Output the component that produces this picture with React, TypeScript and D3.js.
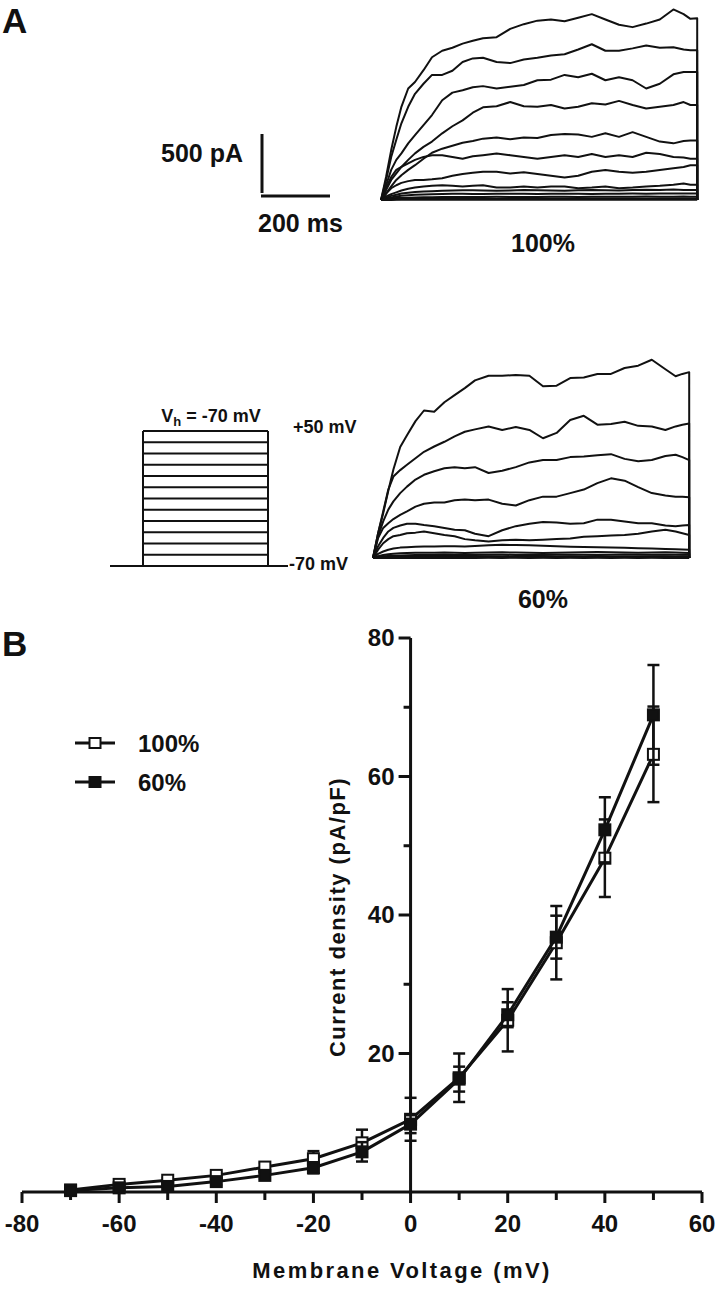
import React from 'react';
import * as d3 from 'd3';

// ---------- Panel A: current traces (time in ms, current in pA) ----------
const T_MS = [0, 15, 30, 45, 60, 80, 100, 125, 150, 180, 210, 240, 270, 300, 340, 380, 420, 460, 500, 540, 580, 620, 660, 700, 740, 780, 820, 860, 890, 910, 930];

const TR100_1 = [0, 197, 423, 620, 790, 945, 1000, 1100, 1210, 1265, 1290, 1325, 1350, 1370, 1380, 1450, 1490, 1520, 1530, 1515, 1545, 1575, 1530, 1485, 1465, 1495, 1530, 1615, 1575, 1535, 1540];
const TR100_2 = [0, 170, 365, 510, 650, 790, 900, 985, 1060, 1060, 1095, 1170, 1200, 1205, 1170, 1160, 1190, 1205, 1225, 1235, 1275, 1320, 1265, 1265, 1285, 1310, 1290, 1295, 1275, 1270, 1270];
const TR100_3 = [0, 125, 255, 340, 395, 480, 550, 635, 720, 845, 910, 930, 955, 965, 945, 960, 975, 1015, 1020, 1060, 1040, 1070, 1015, 1040, 1015, 945, 985, 1065, 1085, 1085, 1085];
const TR100_4 = [0, 85, 170, 225, 280, 340, 395, 450, 495, 565, 625, 675, 740, 785, 795, 830, 795, 790, 805, 775, 790, 820, 810, 840, 805, 775, 790, 805, 830, 805, 805];
const TR100_5 = [0, 55, 115, 170, 210, 255, 295, 350, 400, 435, 460, 485, 500, 520, 530, 515, 530, 525, 550, 560, 555, 535, 565, 535, 575, 535, 495, 480, 500, 505, 505];
const TR100_6 = [0, 100, 195, 255, 280, 310, 340, 365, 380, 380, 365, 350, 370, 380, 395, 380, 365, 350, 365, 380, 365, 390, 365, 380, 365, 400, 390, 365, 360, 350, 350];
const TR100_7 = [0, 55, 100, 125, 145, 160, 170, 170, 175, 185, 205, 220, 230, 240, 240, 225, 235, 220, 205, 190, 205, 240, 255, 240, 230, 240, 255, 270, 280, 295, 295];
const TR100_8 = [0, 30, 50, 65, 80, 95, 105, 115, 120, 125, 120, 115, 120, 125, 105, 105, 115, 105, 115, 115, 100, 105, 115, 100, 105, 115, 120, 130, 140, 130, 130];
const TR100_9 = [0, 20, 35, 45, 55, 62, 68, 72, 75, 78, 80, 82, 82, 80, 78, 80, 84, 82, 80, 78, 82, 85, 82, 80, 84, 86, 84, 88, 85, 84, 84];
const TR100_10 = [0, 12, 22, 30, 36, 40, 44, 46, 48, 50, 52, 52, 50, 50, 52, 54, 52, 50, 52, 54, 52, 50, 52, 54, 55, 54, 56, 55, 56, 55, 55];
const TR100_11 = [0, 6, 12, 16, 18, 20, 22, 24, 24, 25, 26, 26, 25, 26, 27, 26, 25, 26, 27, 28, 26, 27, 28, 27, 28, 29, 28, 28, 29, 28, 28];
const TR100_12 = [0, 3, 5, 7, 8, 9, 10, 10, 11, 11, 12, 11, 12, 12, 11, 12, 12, 13, 12, 12, 13, 12, 12, 13, 12, 13, 12, 13, 12, 13, 12];
const TR100_13 = [0, 1, 1, 2, 2, 2, 2, 3, 2, 2, 3, 2, 2, 3, 2, 2, 3, 2, 2, 3, 2, 2, 3, 2, 2, 3, 2, 2, 3, 2, 2];

const TR60_1 = [0, 210, 380, 570, 750, 940, 1040, 1160, 1250, 1240, 1320, 1380, 1440, 1505, 1545, 1545, 1550, 1545, 1455, 1460, 1525, 1530, 1560, 1560, 1610, 1630, 1680, 1600, 1540, 1560, 1575];
const TR60_2 = [0, 210, 395, 580, 690, 745, 790, 845, 900, 945, 985, 1030, 1070, 1090, 1115, 1085, 1110, 1085, 1015, 1060, 1170, 1205, 1130, 1135, 1155, 1120, 1115, 1085, 1115, 1130, 1140];
const TR60_3 = [0, 185, 310, 410, 480, 550, 605, 665, 705, 735, 760, 770, 760, 770, 720, 740, 770, 810, 830, 830, 855, 860, 870, 880, 840, 820, 830, 865, 875, 855, 830];
const TR60_4 = [0, 170, 255, 295, 330, 365, 395, 435, 460, 470, 470, 490, 495, 490, 495, 460, 445, 490, 520, 520, 550, 580, 635, 675, 655, 600, 550, 530, 520, 520, 515];
const TR60_5 = [0, 100, 170, 225, 255, 275, 290, 290, 280, 270, 255, 240, 235, 205, 185, 235, 270, 290, 305, 300, 290, 295, 325, 325, 310, 295, 295, 275, 270, 275, 280];
const TR60_6 = [0, 70, 125, 160, 185, 195, 210, 215, 225, 210, 195, 185, 160, 150, 140, 150, 155, 150, 155, 160, 165, 180, 185, 190, 195, 205, 225, 240, 225, 210, 195];
const TR60_7 = [0, 35, 55, 70, 80, 88, 92, 95, 98, 98, 100, 100, 98, 102, 108, 112, 110, 108, 104, 100, 96, 94, 92, 88, 86, 82, 80, 76, 74, 72, 70];
const TR60_8 = [0, 15, 25, 32, 36, 40, 42, 44, 45, 45, 46, 44, 42, 44, 46, 48, 46, 44, 42, 44, 46, 48, 50, 48, 46, 44, 46, 48, 46, 44, 42];
const TR60_9 = [0, 8, 14, 18, 20, 22, 24, 25, 26, 26, 27, 26, 25, 26, 28, 27, 26, 25, 26, 27, 28, 27, 26, 28, 29, 28, 27, 28, 27, 28, 28];
const TR60_10 = [0, 4, 7, 9, 10, 11, 12, 12, 13, 13, 14, 13, 12, 13, 14, 13, 12, 13, 14, 13, 14, 13, 14, 13, 14, 13, 14, 14, 13, 14, 14];
const TR60_11 = [0, 2, 3, 4, 5, 5, 6, 6, 6, 6, 7, 6, 6, 6, 7, 6, 6, 7, 6, 6, 7, 6, 7, 6, 7, 6, 7, 6, 7, 6, 6];
const TR60_12 = [0, 1, 1, 1, 2, 1, 2, 1, 2, 1, 2, 1, 2, 1, 2, 1, 2, 1, 2, 1, 2, 1, 2, 1, 2, 1, 2, 1, 2, 1, 1];

const TRACES_100 = [TR100_1, TR100_2, TR100_3, TR100_4, TR100_5, TR100_6, TR100_7, TR100_8, TR100_9, TR100_10, TR100_11, TR100_12, TR100_13];
const TRACES_60 = [TR60_1, TR60_2, TR60_3, TR60_4, TR60_5, TR60_6, TR60_7, TR60_8, TR60_9, TR60_10, TR60_11, TR60_12];

const SCALE_PA = 500;
const SCALE_MS = 200;

// voltage protocol steps (mV)
const STEP_MV = [-70, -60, -50, -40, -30, -20, -10, 0, 10, 20, 30, 40, 50];

// ---------- Panel B: I-V relationship ----------
const VOLT = [-70, -60, -50, -40, -30, -20, -10, 0, 10, 20, 30, 40, 50];
const MEAN_100 = [0.3, 1.1, 1.7, 2.4, 3.6, 4.8, 7.1, 10.5, 16.5, 24.8, 36.0, 48.2, 63.2];
const SEM_100 = [0.3, 0.3, 0.3, 0.4, 0.6, 1.1, 1.9, 3.1, 3.5, 4.5, 5.3, 5.6, 6.9];
const MEAN_60 = [0.2, 0.6, 0.8, 1.5, 2.4, 3.5, 5.8, 9.8, 16.3, 25.6, 36.8, 52.3, 68.9];
const SEM_60 = [0.2, 0.3, 0.4, 0.5, 0.5, 0.8, 1.4, 1.3, 1.8, 1.8, 3.1, 4.7, 7.2];
const X_MAJOR = [-80, -60, -40, -20, 0, 20, 40, 60];
const X_MINOR = [-70, -50, -30, -10, 10, 30, 50];
const Y_MAJOR = [20, 40, 60, 80];
const Y_MINOR = [10, 30, 50, 70];
const SERIES = ['100%', '60%'];

const FONT = '"Liberation Sans", Arial, Helvetica, sans-serif';
const INK = '#111';

function TracePanel({ traces, x0, base }: { traces: number[][]; x0: number; base: number }) {
  const tEnd = T_MS[T_MS.length - 1];
  const x = d3.scaleLinear().domain([0, tEnd]).range([x0, x0 + tEnd * 0.34]);
  const y = d3.scaleLinear().domain([0, SCALE_PA]).range([base, base - 59]);
  const line = d3.line<[number, number]>().x(d => x(d[0])).y(d => y(d[1]));
  return (
    <g>
      {traces.map((v, i) => {
        const pts: [number, number][] = T_MS.map((t, j) => [t, v[j]]);
        pts.push([tEnd, 0]);
        return (
          <path key={i} d={line(pts) || ''} fill="none" stroke={INK} strokeWidth={2} strokeLinejoin="round" />
        );
      })}
    </g>
  );
}

export default function App() {
  // scale-bar scales (same calibration as traces)
  const sbY = d3.scaleLinear().domain([0, SCALE_PA]).range([193, 134]);
  const sbX = d3.scaleLinear().domain([0, SCALE_MS]).range([262, 262 + SCALE_MS * 0.34]);

  const yV = d3.scaleLinear().domain([-70, 50]).range([566, 431]);
  const protoL = 143, protoR = 268;

  const x = d3.scaleLinear().domain([-80, 60]).range([22, 702]);
  const y = d3.scaleLinear().domain([0, 80]).range([1192, 638]);
  const ivLine = d3.line<number>().x((_, i) => x(VOLT[i])).y(d => y(d));

  const seriesData = [
    { name: SERIES[0], mean: MEAN_100, sem: SEM_100, fill: '#fff' },
    { name: SERIES[1], mean: MEAN_60, sem: SEM_60, fill: INK },
  ];

  const ms = 11; // marker size
  const cap = 6;

  return (
    <svg width={720} height={1290} style={{ position: 'absolute', left: 0, top: 0, background: '#fff' }} fontFamily={FONT}>
      <rect x={0} y={0} width={720} height={1290} fill="#fff" />
      {/* Panel labels */}
      <text x={2} y={33} fontSize={35} fontWeight="bold" fill={INK}>A</text>
      <text x={2} y={656} fontSize={35} fontWeight="bold" fill={INK}>B</text>

      {/* Traces */}
      <TracePanel traces={TRACES_100} x0={381} base={200} />
      <TracePanel traces={TRACES_60} x0={373} base={558} />
      <text x={543} y={252} fontSize={25} fontWeight="bold" textAnchor="middle" fill={INK}>100%</text>
      <text x={543} y={608} fontSize={25} fontWeight="bold" textAnchor="middle" fill={INK}>60%</text>

      {/* Scale bar */}
      <line x1={sbX(0)} x2={sbX(0)} y1={sbY(0)} y2={sbY(SCALE_PA)} stroke={INK} strokeWidth={3} />
      <line x1={sbX(0) - 1} x2={sbX(SCALE_MS)} y1={196} y2={196} stroke={INK} strokeWidth={3} />
      <text x={243} y={162} fontSize={25} fontWeight="bold" textAnchor="end" fill={INK}>{`${SCALE_PA} pA`}</text>
      <text x={258} y={232} fontSize={25} fontWeight="bold" fill={INK}>{`${SCALE_MS} ms`}</text>

      {/* Voltage protocol */}
      <g stroke={INK} strokeWidth={2}>
        <line x1={110} x2={288} y1={yV(-70)} y2={yV(-70)} />
        {STEP_MV.slice(1).map(v => (
          <line key={v} x1={protoL} x2={protoR} y1={yV(v)} y2={yV(v)} />
        ))}
        <line x1={protoL} x2={protoL} y1={yV(-70)} y2={yV(50)} />
        <line x1={protoR} x2={protoR} y1={yV(-70)} y2={yV(50)} />
      </g>
      <text x={211} y={422} fontSize={18} fontWeight="bold" textAnchor="middle" fill={INK}>
        <tspan>V</tspan>
        <tspan dy={4} fontSize={13}>h</tspan>
        <tspan dy={-4}>{' = -70 mV'}</tspan>
      </text>
      <text x={293} y={433} fontSize={18} fontWeight="bold" fill={INK}>+50 mV</text>
      <text x={289} y={570} fontSize={18} fontWeight="bold" fill={INK}>-70 mV</text>

      {/* IV axes */}
      <g stroke={INK} strokeWidth={3}>
        <line x1={x(-80)} x2={x(60)} y1={y(0)} y2={y(0)} />
        <line x1={x(0)} x2={x(0)} y1={y(0) + 1.5} y2={y(80)} />
        {X_MAJOR.map(v => <line key={'xm' + v} x1={x(v)} x2={x(v)} y1={y(0)} y2={y(0) + 11} />)}
        {X_MINOR.map(v => <line key={'xn' + v} x1={x(v)} x2={x(v)} y1={y(0)} y2={y(0) + 8} />)}
        {Y_MAJOR.map(v => <line key={'ym' + v} x1={x(0)} x2={x(0) - 12} y1={y(v)} y2={y(v)} />)}
        {Y_MINOR.map(v => <line key={'yn' + v} x1={x(0)} x2={x(0) - 7} y1={y(v)} y2={y(v)} />)}
      </g>
      {X_MAJOR.map(v => (
        <text key={'xl' + v} x={x(v)} y={1232} fontSize={24} fontWeight="bold" textAnchor="middle" fill={INK}>{v}</text>
      ))}
      {Y_MAJOR.map(v => (
        <text key={'yl' + v} x={x(0) - 16} y={y(v) + 8} fontSize={24} fontWeight="bold" textAnchor="end" fill={INK}>{v}</text>
      ))}
      <text x={402} y={1278} fontSize={22} fontWeight="bold" textAnchor="middle" letterSpacing={2.4} fill={INK}>Membrane Voltage (mV)</text>
      <text transform={`translate(345, 917) rotate(-90)`} fontSize={22} fontWeight="bold" textAnchor="middle" letterSpacing={1.5} fill={INK}>Current density (pA/pF)</text>

      {/* IV series */}
      {seriesData.map(s => (
        <g key={s.name}>
          <path d={ivLine(s.mean) || ''} fill="none" stroke={INK} strokeWidth={3} strokeLinejoin="round" />
          {s.mean.map((m, i) => (
            <g key={i} stroke={INK} strokeWidth={2.5}>
              <line x1={x(VOLT[i])} x2={x(VOLT[i])} y1={y(m - s.sem[i])} y2={y(m + s.sem[i])} />
              <line x1={x(VOLT[i]) - cap} x2={x(VOLT[i]) + cap} y1={y(m + s.sem[i])} y2={y(m + s.sem[i])} />
              <line x1={x(VOLT[i]) - cap} x2={x(VOLT[i]) + cap} y1={y(m - s.sem[i])} y2={y(m - s.sem[i])} />
            </g>
          ))}
          {s.mean.map((m, i) => (
            <rect key={'m' + i} x={x(VOLT[i]) - ms / 2} y={y(m) - ms / 2} width={ms} height={ms} fill={s.fill} stroke={INK} strokeWidth={2} />
          ))}
        </g>
      ))}

      {/* Legend */}
      {seriesData.map((s, i) => {
        const ly = 743 + i * 39;
        return (
          <g key={'lg' + s.name}>
            <line x1={75} x2={115} y1={ly} y2={ly} stroke={INK} strokeWidth={3} />
            <rect x={95 - 5.5} y={ly - 5} width={11} height={10} fill={s.fill} stroke={INK} strokeWidth={2} />
            <text x={138} y={ly + 9} fontSize={24} fontWeight="bold" fill={INK}>{s.name}</text>
          </g>
        );
      })}
    </svg>
  );
}
